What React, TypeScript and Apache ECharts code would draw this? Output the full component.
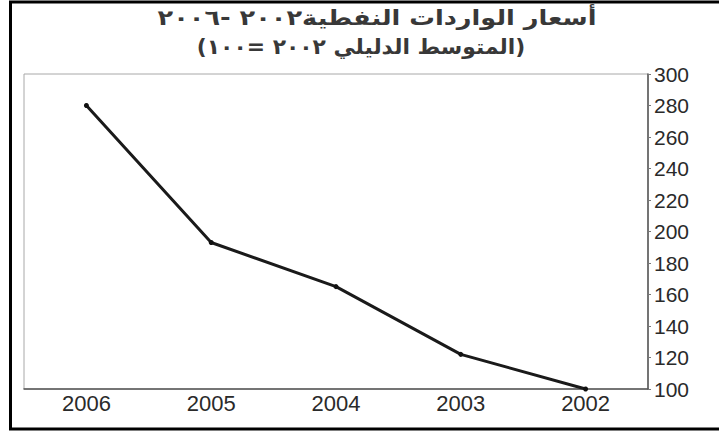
import React, { useEffect, useRef } from "react";
import * as echarts from "echarts";

const titleLine1 = "\u200Fأسعار الواردات النفطية٢٠٠٢ -٢٠٠٦\u200F";
const titleLine2 = "\u200F(المتوسط الدليلي ٢٠٠٢ =١٠٠)\u200F";
const years = ["2006", "2005", "2004", "2003", "2002"];
const priceIndex = [280, 193, 165, 122, 100];
const yMin = 100;
const yMax = 300;
const yStep = 20;

export default function App() {
  const ref = useRef<HTMLDivElement>(null);
  useEffect(() => {
    if (!ref.current) return;
    const chart = echarts.init(ref.current, undefined, { renderer: "svg" });
    chart.setOption({
      animation: false,
      backgroundColor: "#ffffff",
      grid: {
        left: 24,
        right: 71,
        top: 74,
        bottom: 44,
        show: true,
        borderColor: "#a8a8a8",
        borderWidth: 1,
      },
      xAxis: {
        type: "category",
        data: years,
        boundaryGap: true,
        axisLine: { show: true, lineStyle: { color: "#555", width: 1.5 } },
        axisTick: { show: false },
        axisLabel: {
          margin: 3,
          fontSize: 22,
          color: "#2a2a2a",
          fontFamily: "Liberation Sans, Arial",
        },
        splitLine: { show: false },
      },
      yAxis: {
        type: "value",
        position: "right",
        min: yMin,
        max: yMax,
        interval: yStep,
        axisLine: { show: true, lineStyle: { color: "#555", width: 1.5 } },
        axisTick: { show: true, length: 3, lineStyle: { color: "#777" } },
        axisLabel: {
          margin: 6,
          fontSize: 21,
          color: "#2a2a2a",
          fontFamily: "Liberation Sans, Arial",
        },
        splitLine: { show: false },
      },
      series: [
        {
          type: "line",
          data: priceIndex,
          symbol: "circle",
          symbolSize: 5,
          itemStyle: { color: "#111" },
          lineStyle: { color: "#1a1a1a", width: 3 },
        },
      ],
      graphic: [
        {
          type: "rect",
          shape: { x: 10.5, y: 2, width: 720, height: 427 },
          style: { fill: "none", stroke: "#000", lineWidth: 3 },
          silent: true,
        },
        {
          type: "text",
          x: 377,
          y: 18,
          scaleX: 1.22,
          style: {
            text: titleLine1,
            align: "center",
            verticalAlign: "middle",
            fontSize: 21,
            fontWeight: "bold",
            fontFamily: "DejaVu Sans",
            fill: "#383838",
          },
        },
        {
          type: "text",
          x: 361,
          y: 47,
          scaleX: 1.04,
          style: {
            text: titleLine2,
            align: "center",
            verticalAlign: "middle",
            fontSize: 21,
            fontWeight: "bold",
            fontFamily: "DejaVu Sans",
            fill: "#383838",
          },
        },
      ],
    });
    return () => chart.dispose();
  }, []);
  return (
    <div
      ref={ref}
      style={{ position: "fixed", left: 0, top: 0, width: 719, height: 433 }}
    />
  );
}
